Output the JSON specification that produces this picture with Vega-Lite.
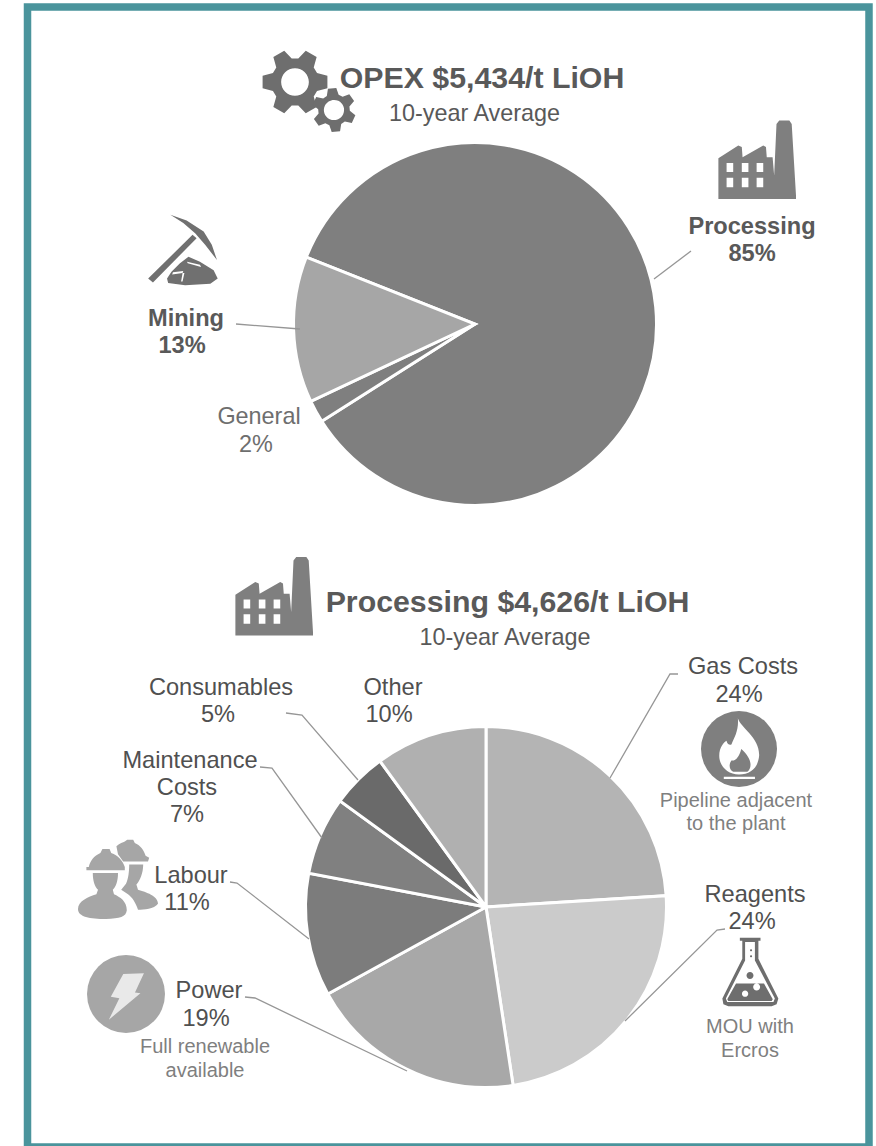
{
"$schema":"https://vega.github.io/schema/vega-lite/v6.json",
"width":876,"height":1146,"autosize":"none","padding":0,"background":"white",
"config":{"view":{"stroke":null},"text":{"font":"Liberation Sans"}},
"resolve":{"scale":{"theta":"independent","color":"independent"}},
"encoding":{
"x":{"field":"x","type":"quantitative","scale":{"domain":[0,876],"nice":false},"axis":null},
"y":{"field":"y","type":"quantitative","scale":{"domain":[1146,0],"nice":false},"axis":null}
},
"layer":[
{"data":{"values":[{"name":"Processing","share":85,"rank":1,"x":475,"y":324},{"name":"General","share":2,"rank":2,"x":475,"y":324},{"name":"Mining","share":13,"rank":3,"x":475,"y":324}]},
"mark":{"type":"arc","radius":181.5,"stroke":"white","strokeWidth":3},
"encoding":{"theta":{"field":"share","type":"quantitative","stack":true,"scale":{"range":[5.0894,11.3726]}},"order":{"field":"rank"},
"color":{"field":"name","type":"nominal","legend":null,"scale":{"domain":["Processing","General","Mining"],"range":["#7f7f7f","#7f7f7f","#a6a6a6"]}}}},
{"data":{"values":[{"name":"Gas Costs","share":24,"rank":1,"x":486,"y":907},{"name":"Reagents","share":23.6,"rank":2,"x":486,"y":907},{"name":"Power","share":19.4,"rank":3,"x":486,"y":907},{"name":"Labour","share":11,"rank":4,"x":486,"y":907},{"name":"Maintenance Costs","share":7,"rank":5,"x":486,"y":907},{"name":"Consumables","share":5,"rank":6,"x":486,"y":907},{"name":"Other","share":10,"rank":7,"x":486,"y":907}]},
"mark":{"type":"arc","radius":180.5,"stroke":"white","strokeWidth":3},
"encoding":{"theta":{"field":"share","type":"quantitative","stack":true,"scale":{"range":[0,6.2832]}},"order":{"field":"rank"},
"color":{"field":"name","type":"nominal","legend":null,"scale":{"domain":["Gas Costs","Reagents","Power","Labour","Maintenance Costs","Consumables","Other"],"range":["#b4b4b4","#cbcbcb","#a8a8a8","#7c7c7c","#808080","#6a6a6a","#b0b0b0"]}}}},
{"data":{"values":[
{"leader":"Processing","seq":1,"x":654,"y":279},{"leader":"Processing","seq":2,"x":691,"y":251},
{"leader":"Mining","seq":1,"x":236,"y":324},{"leader":"Mining","seq":2,"x":300,"y":329},
{"leader":"Consumables","seq":1,"x":286,"y":713},{"leader":"Consumables","seq":2,"x":302,"y":715},{"leader":"Consumables","seq":3,"x":358,"y":780},
{"leader":"Maintenance","seq":1,"x":260,"y":767},{"leader":"Maintenance","seq":2,"x":272,"y":768},{"leader":"Maintenance","seq":3,"x":322,"y":838},
{"leader":"Labour","seq":1,"x":230,"y":882},{"leader":"Labour","seq":2,"x":237,"y":883},{"leader":"Labour","seq":3,"x":309,"y":939},
{"leader":"Power","seq":1,"x":245,"y":997},{"leader":"Power","seq":2,"x":255,"y":998},{"leader":"Power","seq":3,"x":407,"y":1071},
{"leader":"Gas","seq":1,"x":678,"y":674},{"leader":"Gas","seq":2,"x":670,"y":674},{"leader":"Gas","seq":3,"x":610,"y":778},
{"leader":"Reagents","seq":1,"x":725,"y":929},{"leader":"Reagents","seq":2,"x":717,"y":930},{"leader":"Reagents","seq":3,"x":625,"y":1021}
]},
"mark":{"type":"line","stroke":"#969696","strokeWidth":1.3},
"encoding":{"detail":{"field":"leader"},"order":{"field":"seq"}}},
{"data":{"values":[{"text":"OPEX $5,434/t LiOH","x":482,"y":88},{"text":"Processing $4,626/t LiOH","x":507.5,"y":612}]},
"mark":{"type":"text","font":"Liberation Sans","fontWeight":"bold","fontSize":30.3,"fill":"#595959","align":"center","baseline":"alphabetic"},"encoding":{"text":{"field":"text"}}},
{"data":{"values":[{"text":"10-year Average","x":474.5,"y":121},{"text":"10-year Average","x":505,"y":645}]},
"mark":{"type":"text","font":"Liberation Sans","fontSize":23.4,"fill":"#595959","align":"center","baseline":"alphabetic"},"encoding":{"text":{"field":"text"}}},
{"data":{"values":[{"text":"Processing","x":752,"y":234},{"text":"85%","x":752,"y":261},{"text":"Mining","x":186,"y":326},{"text":"13%","x":182,"y":353}]},
"mark":{"type":"text","font":"Liberation Sans","fontWeight":"bold","fontSize":23.6,"fill":"#595959","align":"center","baseline":"alphabetic"},"encoding":{"text":{"field":"text"}}},
{"data":{"values":[{"text":"General","x":259,"y":424},{"text":"2%","x":256,"y":452}]},
"mark":{"type":"text","font":"Liberation Sans","fontSize":23.4,"fill":"#6e6e6e","align":"center","baseline":"alphabetic"},"encoding":{"text":{"field":"text"}}},
{"data":{"values":[
{"text":"Gas Costs","x":743,"y":674},{"text":"24%","x":739,"y":702},
{"text":"Reagents","x":755,"y":902},{"text":"24%","x":752,"y":929},
{"text":"Power","x":209,"y":998},{"text":"19%","x":206,"y":1026},
{"text":"Labour","x":191,"y":883},{"text":"11%","x":187,"y":910},
{"text":"Maintenance","x":190,"y":768},{"text":"Costs","x":187,"y":795},{"text":"7%","x":187,"y":822},
{"text":"Consumables","x":221,"y":695},{"text":"5%","x":218,"y":722},
{"text":"Other","x":393,"y":695},{"text":"10%","x":389,"y":722}
]},
"mark":{"type":"text","font":"Liberation Sans","fontSize":23.6,"fill":"#505050","align":"center","baseline":"alphabetic"},"encoding":{"text":{"field":"text"}}},
{"data":{"values":[
{"text":"Pipeline adjacent","x":736,"y":807},{"text":"to the plant","x":736,"y":830},
{"text":"MOU with","x":750,"y":1033},{"text":"Ercros","x":750,"y":1057},
{"text":"Full renewable","x":205,"y":1053},{"text":"available","x":205,"y":1077}
]},
"mark":{"type":"text","font":"Liberation Sans","fontSize":20,"fill":"#7f7f7f","align":"center","baseline":"alphabetic"},"encoding":{"text":{"field":"text"}}},
{"data":{"values":[{"icon":"factory top","x":757,"y":159.5},{"icon":"factory bottom","x":274,"y":596}]},
"mark":{"type":"point","filled":true,"opacity":1,"fill":"#7f7f7f","size":6084,"shape":"M-.99 1.01L-.99 -.03L-.48 -.36L-.39 -.32L-.37 -.06L.16 -.36L.23 -.32L.25 -.06L.40 -.06L.44 .41L.50 -.91L.57 -1L.83 -1L.89 -.91L1 .92L1 1.01ZM-.78 .09L-.78 .32L-.61 .32L-.61 .09ZM-.39 .09L-.39 .32L-.22 .32L-.22 .09ZM-.01 .09L-.01 .32L.16 .32L.16 .09ZM-.78 .47L-.78 .71L-.61 .71L-.61 .47ZM-.39 .47L-.39 .71L-.22 .71L-.22 .47ZM-.01 .47L-.01 .71L.16 .71L.16 .47Z"}},
{"data":{"values":[{"icon":"large gear","x":295,"y":82}]},
"mark":{"type":"point","filled":true,"opacity":1,"fill":"#6e6e6e","size":4356,"shape":"M.668 -.27L.982 -.191L.982 .191L.668 .27L.567 .443L.656 .755L.326 .946L.1 .713L-.1 .713L-.326 .946L-.656 .755L-.567 .443L-.668 .27L-.982 .191L-.982 -.191L-.668 -.27L-.567 -.443L-.656 -.755L-.326 -.946L-.1 -.713L.1 -.713L.326 -.946L.656 -.755L.567 -.443ZM.42 0A.42 .42 0 1 0 -.42 0A.42 .42 0 1 0 .42 0Z"}},
{"data":{"values":[{"icon":"small gear","x":334,"y":110}]},
"mark":{"type":"point","filled":true,"opacity":1,"fill":"#6e6e6e","size":1936,"angle":25,"shape":"M.668 -.27L.982 -.191L.982 .191L.668 .27L.567 .443L.656 .755L.326 .946L.1 .713L-.1 .713L-.326 .946L-.656 .755L-.567 .443L-.668 .27L-.982 .191L-.982 -.191L-.668 -.27L-.567 -.443L-.656 -.755L-.326 -.946L-.1 -.713L.1 -.713L.326 -.946L.656 -.755L.567 -.443ZM.46 0A.46 .46 0 1 0 -.46 0A.46 .46 0 1 0 .46 0Z"}},
{"data":{"values":[{"icon":"pickaxe","x":183.3,"y":250}]},
"mark":{"type":"point","filled":true,"opacity":1,"fill":"#707070","size":5476,"shape":"M-.95 .77L-.82 .88L.36 -.32L.25 -.41ZM-.35 -.95L.09 -.8L.55 -.5L.77 -.14L.91 .27L.59 -.14L.32 -.45L0 -.73ZM-.44 .77L-.32 .59L-.09 .36L.14 .18L.45 .32L.82 .55L.93 .77L.73 .91L.05 .95L-.41 .89ZM.1 .32L.12 .36L.48 .46L.45 .4ZM-.28 .6L-.3 .66L-.02 .62L0 .57ZM-.02 .62L-.06 .85L-.02 .85L.03 .62Z"}},
{"data":{"values":[{"icon":"flame disc","x":739,"y":749}]},
"mark":{"type":"point","filled":true,"opacity":1,"fill":"#7f7f7f","size":5776,"shape":"circle"}},
{"data":{"values":[{"icon":"flame","x":739,"y":749}]},
"mark":{"type":"point","filled":true,"opacity":1,"fill":"white","size":5776,"shape":"M-.03 -.81C.05 -.55 .55 -.3 .53 .18C.5 .5 .3 .67 0 .67C-.3 .67 -.52 .45 -.52 .18C-.52 -.05 -.4 -.18 -.33 -.22C-.3 -.12 -.25 -.1 -.2 -.12C-.12 -.3 0 -.5 -.03 -.81ZM.06 0C0 .22 -.1 .33 -.2 .3C-.3 .45 -.22 .58 -.15 .6L.22 .6C.35 .5 .35 .25 .06 0ZM-.4 .73L.42 .73L.42 .79L-.4 .79Z"}},
{"data":{"values":[{"icon":"power disc","x":126,"y":994}]},
"mark":{"type":"point","filled":true,"opacity":1,"fill":"#a6a6a6","size":6084,"shape":"circle"}},
{"data":{"values":[{"icon":"bolt","x":126,"y":994}]},
"mark":{"type":"point","filled":true,"opacity":1,"fill":"#e9e9e9","size":6084,"shape":"M-.07 -.51L.46 -.53L.23 -.04L.37 -.02L-.44 .66L-.17 .11L-.39 .07Z"}},
{"data":{"values":[{"icon":"workers","x":118,"y":879}]},
"mark":{"type":"point","filled":true,"opacity":1,"fill":"#a6a6a6","size":6400,"shape":"M-.79 -.22L.17 -.22L.17 -.3C.12 -.45 0 -.6 -.17 -.65L-.21 -.75L-.39 -.75L-.44 -.65C-.6 -.58 -.7 -.45 -.73 -.3L-.79 -.3ZM-.63 -.15L0 -.15C0 .05 -.05 .2 -.13 .27L-.1 .38C.05 .45 .22 .55 .22 .78C.2 .95 .05 .98 -.3 1C-.7 1 -1 .95 -1 .75C-1 .55 -.75 .45 -.54 .38L-.5 .27C-.58 .2 -.63 .05 -.63 -.15ZM-.04 -.82C.05 -.9 .12 -.92 .17 -.94L.23 -.98L.38 -.98L.42 -.9C.55 -.85 .65 -.72 .69 -.58L.78 -.53L.75 -.44L.13 -.44L0 -.62ZM.28 -.36L.63 -.36C.63 -.15 .55 .05 .46 .14L.5 .27C.7 .33 1 .42 1 .62C.9 .75 .65 .77 .5 .77C.45 .6 .35 .45 .25 .38L.08 .27L.2 .12C.26 0 .28 -.2 .28 -.36Z"}},
{"data":{"values":[{"icon":"flask","x":750,"y":972}]},
"mark":{"type":"point","filled":true,"opacity":1,"fill":"#6e6e6e","size":4900,"shape":"M-.29 -.98L.3 -.98L.3 -.89L.24 -.89L.24 -.38L.81 .76L.76 .92L.62 .98L-.62 .98L-.76 .92L-.79 .76L-.22 -.38L-.22 -.89L-.29 -.89ZM-.14 -.86L-.14 -.33L-.69 .76L-.65 .86L.67 .86L.71 .76L.14 -.33L.14 -.86ZM-.4 .33L.4 .33L.65 .78L.62 .83L-.62 .83L-.65 .78ZM-.05 .62A.09 .09 0 1 0 -.23 .62A.09 .09 0 1 0 -.05 .62ZM.29 .43A.1 .1 0 1 0 .09 .43A.1 .1 0 1 0 .29 .43ZM.1 .1A.1 .1 0 1 1 -.1 .1A.1 .1 0 1 1 .1 .1ZM.06 -.62A.03 .03 0 1 1 0 -.62A.03 .03 0 1 1 .06 -.62ZM.06 -.45A.03 .03 0 1 1 0 -.45A.03 .03 0 1 1 .06 -.45Z"}},
{"data":{"values":[{"panel":"frame","x":27.5,"x2":869,"y":7,"y2":1147}]},
"mark":{"type":"rect","fill":null,"stroke":"#4a949c","strokeWidth":7.5},
"encoding":{"x2":{"field":"x2"},"y2":{"field":"y2"}}}
]
}
